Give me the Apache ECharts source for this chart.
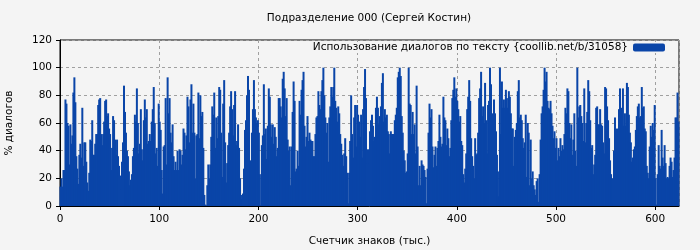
<!DOCTYPE html>
<html>
<head>
<meta charset="utf-8">
<script src="https://cdn.jsdelivr.net/npm/echarts@6/dist/echarts.min.js"></script>
<style>
html,body{margin:0;padding:0;background:#f4f4f4;}
#chart{width:700px;height:250px;}
</style>
</head>
<body>
<div id="chart"></div>
<script>
var part1 = [14,20,14,26,26,77,74,60,58,30,59,45,51,82,93,75,36,27,16,37,45,35,71,29,46,46,32,17,11,24,48,47,62,37,37,45,52,52,73,77,78,52,44,52,61,76,77,65,67,56,52,26,42,65,62,48,37];
var part2 = [48,36,29,22,12,32,46,87,68,53,40,36,25,15,19,23,36,42,66,61,85,60,38,45,70,41,33,62,77,64,70,45,47,52,47,61,70,86,60,38,42,29,74,61,55,26,9,43,44,78,30,93,67,78,53,46,59,36,26];
var part3 = [32,26,40,26,41,40,30,37,56,53,41,51,79,72,46,77,88,53,74,53,20,51,52,82,49,80,65,68,42,8,1,0,15,30,20,30,50,72,66,82,42,64,49,65,86,84,53,21,74,91,46,17,31,44,53,72,83,70];
var part4 = [51,73,83,44,47,59,42,20,5,8,9,27,55,62,80,94,84,14,33,53,70,91,70,64,60,62,53,23,0,44,51,88,52,56,34,58,85,79,59,50,59,45,57,50,36,42,78,78,72,64,92,97,85,65,78,48,40,43];
var part5 = [15,43,68,90,76,25,27,40,29,76,66,84,91,97,58,43,50,65,47,53,48,47,47,36,36,52,64,65,83,73,70,83,91,100,80,64,53,60,32,64,72,86,79,86,100,76,71,61,72,67,52,45,37,29,38,49,36,24,2];
var part6 = [24,47,80,52,35,64,73,43,73,66,61,50,66,35,70,86,99,78,31,41,31,54,62,66,58,47,50,71,79,71,59,65,72,89,96,61,70,64,66,54,52,38,54,52,52,52,62,66,71,93,97,100,94,65,53,40,33,24,25];
var part7 = [38,100,74,73,52,68,52,59,38,87,43,15,29,15,33,30,29,26,21,2,27,53,74,64,70,43,28,37,43,29,42,47,66,50,43,45,79,64,62,44,56,49,36,42,62,78,84,93,79,85,76,70,61,65,47,44,23,17,27];
var part8 = [38,70,79,91,76,49,36,29,20,49,37,38,53,78,85,97,65,72,60,89,62,38,73,76,100,88,67,66,77,67,54,37,25,7,100,52,90,71,77,71,84,78,71,83,79,67,56,56,29,50,55,60,83,91,64,66,62,49,42];
var part9 = [46,66,21,60,53,15,48,20,25,15,12,8,18,20,3,23,48,67,72,84,100,90,97,76,71,70,76,67,58,49,54,42,49,33,42,36,49,40,44,41,52,71,67,85,83,60,49,59,37,48,67,40,29,100,64,72,73,65,60];
var part10 = [47,85,46,60,68,91,83,62,42,44,23,30,37,71,72,59,59,70,59,58,46,38,86,85,72,62,49,33,23,20,2,40,64,37,56,50,70,85,70,71,85,58,67,58,89,86,66,53,46,32,35,41,43,55,65,72,74,64,65];
var part11 = [86,71,72,56,54,29,24,20,43,58,50,60,55,73,20,1,23,44,29,27,55,35,29,44,31,20,21,20,29,35,32,21,26,35,64,64,82,61];

var dialogs = [].concat(part1, part2, part3, part4, part5, part6, part7, part8, part9, part10, part11);
var seriesName = 'Использование диалогов по тексту {coollib.net/b/31058}';

var myChart = echarts.init(document.getElementById('chart'));
var font = 'DejaVu Sans';
var fs = 10.5;
var option = {
    backgroundColor: '#f4f4f4',
    animation: false,
    title: {
        text: 'Подразделение 000 (Сергей Костин)',
        left: 369,
        textAlign: 'center',
        top: 13,
        padding: 0,
        textStyle: {fontFamily: font, fontSize: fs, fontWeight: 'normal', color: '#000'}
    },
    legend: {
        data: [seriesName],
        right: 30,
        top: 42,
        padding: [0, 5],
        align: 'right',
        itemWidth: 32,
        itemHeight: 8,
        itemGap: 6,
        backgroundColor: '#f4f4f4',
        textStyle: {fontFamily: font, fontSize: fs, color: '#000'}
    },
    grid: {
        left: 60, right: 21, top: 40, bottom: 44,
        outerBoundsMode: 'none',
        containLabel: false,
        show: true,
        borderColor: '#000',
        borderWidth: 1
    },
    xAxis: {
        type: 'value',
        min: 0,
        max: dialogs.length,
        interval: 100,
        name: 'Счетчик знаков (тыс.)',
        nameLocation: 'middle',
        nameGap: 30,
        nameTextStyle: {fontFamily: font, fontSize: fs, color: '#000'},
        axisLine: {lineStyle: {color: '#000'}},
        axisTick: {length: 4, lineStyle: {color: '#000'}},
        axisLabel: {
            fontFamily: font, fontSize: fs, color: '#000',
            showMaxLabel: false,
            formatter: function (v) { return v % 100 === 0 ? v : ''; }
        },
        splitLine: {show: true, lineStyle: {color: '#a0a0a0', type: [3, 3]}}
    },
    yAxis: {
        type: 'value',
        min: 0,
        max: 120,
        interval: 20,
        name: '% диалогов',
        nameLocation: 'middle',
        nameGap: 45,
        nameTextStyle: {fontFamily: font, fontSize: fs, color: '#000'},
        axisLine: {show: true, lineStyle: {color: '#000'}},
        axisTick: {show: true, length: 4, lineStyle: {color: '#000'}},
        axisLabel: {fontFamily: font, fontSize: fs, color: '#000'},
        splitLine: {show: true, lineStyle: {color: '#a0a0a0', type: [3, 3]}}
    },
    series: [{
        name: seriesName,
        type: 'bar',
        barWidth: 2,
        itemStyle: {color: '#0a45a8'},
        data: dialogs.map(function (v, i) { return [i + 0.5, v]; })
    }]
};
myChart.setOption(option);
</script>
</body>
</html>
